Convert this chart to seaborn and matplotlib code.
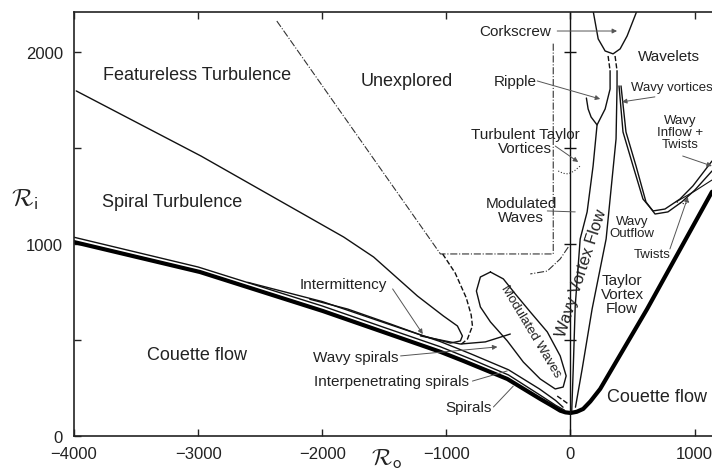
import matplotlib
matplotlib.use("Agg")
import matplotlib.pyplot as plt
import seaborn as sns

# boundary curves (Ro, Ri)
couette_ro = [-4000, -2985, -1996, -1047, -863, -509, -244, -150, -83, -40, 0, 50, 102, 160, 239, 617, 1140]
couette_ri = [1010, 854, 651, 438, 391, 297, 193, 158, 132, 123, 120, 126, 141, 180, 245, 661, 1272]

spiral_a_ro = [-4000, -3000, -2000, -1500, -1050, -800, -500, -250, -120, -50]
spiral_a_ri = [1035, 880, 677, 565, 465, 400, 318, 215, 160, 135]

spiral_b_ro = [-2600, -2000, -1500, -1050, -800, -500, -250, -120, -60]
spiral_b_ri = [800, 700, 590, 492, 427, 345, 245, 185, 150]

tongue_ro = [-3982, -2977, -1827, -1586, -1233, -1024, -911, -871, -887, -967, -1184, -1449, -1795, -2100]
tongue_ri = [1797, 1458, 1036, 932, 729, 625, 573, 521, 495, 484, 521, 583, 661, 712]

wavy_spiral_ro = [-1208, -887, -686, -485]
wavy_spiral_ri = [521, 479, 490, 531]

bulb_ro = [-645, -541, -445, -324, -187, -83, -35, -59, -123, -244, -380, -509, -645, -726, -758, -726, -645]
bulb_ri = [854, 818, 740, 646, 542, 417, 313, 255, 245, 297, 385, 495, 594, 672, 755, 828, 854]

unexplored_ro = [-2366, -1048, -139, -139]
unexplored_ri = [2161, 948, 948, 2052]

dashed_ro = [-1030, -930, -840, -800, -790, -830, -887]
dashed_ri = [948, 850, 720, 630, 573, 505, 474]

ttv_ro = [-18, -83, -187, -324]
ttv_ri = [984, 922, 859, 844]

ttv_arc_ro = [-99, -60, -18, 30, 78]
ttv_arc_ri = [1380, 1368, 1365, 1380, 1406]

bottom_dash_ro = [-107, -18]
bottom_dash_ri = [208, 167]

wvf_left_ro = [10, 22, 38, 78, 134, 182, 214]
wvf_left_ri = [130, 349, 677, 1026, 1167, 1406, 1620]

ripple_ro = [128, 142, 166, 214, 279, 319, 319]
ripple_ri = [1760, 1703, 1661, 1620, 1703, 1807, 1901]

tvf_left_ro = [40, 94, 174, 287, 367, 375, 375]
tvf_left_ri = [150, 349, 661, 1026, 1547, 1823, 1901]

corkscrew_ro = [182, 223, 279, 343, 400, 456, 536]
corkscrew_ri = [2215, 2068, 2005, 1990, 2016, 2083, 2215]

dash_pair_l_ro = [303, 319]
dash_pair_l_ri = [1979, 1901]
dash_pair_r_ro = [359, 375]
dash_pair_r_ri = [1979, 1901]

outflow1_ro = [391, 423, 504, 584, 665, 761, 882, 986, 1140]
outflow1_ri = [1823, 1583, 1406, 1234, 1172, 1182, 1234, 1302, 1432]
outflow2_ro = [407, 447, 528, 608, 681, 785, 897, 1002, 1140]
outflow2_ri = [1823, 1583, 1406, 1219, 1156, 1167, 1219, 1281, 1380]
outflow3_ro = [850, 1000, 1140]
outflow3_ri = [1219, 1275, 1333]

twist_dot_ro = [858, 922, 962]
twist_dot_ri = [1219, 1208, 1224]

axis_ticks_ri = [500, 1000, 1500, 2000]

sns.set_theme(style="ticks")
plt.rcParams["font.family"] = ["Liberation Sans", "DejaVu Sans"]
plt.rcParams["mathtext.fontset"] = "cm"

fig = plt.figure(figsize=(7.12, 4.77), dpi=100)
ax = fig.add_axes([74 / 712, 1 - 437 / 477, 638 / 712, 424 / 477])


def curve(xs, ys, lw=1.0, ls="-", color="#111111"):
    sns.lineplot(x=xs, y=ys, sort=False, estimator=None, ax=ax,
                 color=color, linewidth=lw, linestyle=ls)


curve(couette_ro, couette_ri, lw=3.0, color="black")
curve(spiral_a_ro, spiral_a_ri)
curve(spiral_b_ro, spiral_b_ri)
curve(tongue_ro, tongue_ri)
curve(wavy_spiral_ro, wavy_spiral_ri)
curve(bulb_ro, bulb_ri)
curve(unexplored_ro, unexplored_ri, lw=0.8, ls="-.", color="#333333")
curve(dashed_ro, dashed_ri, lw=1.0, ls="--")
curve(ttv_ro, ttv_ri, lw=0.8, ls="-.", color="#333333")
curve(ttv_arc_ro, ttv_arc_ri, lw=0.8, ls=":", color="#333333")
curve(bottom_dash_ro, bottom_dash_ri, lw=1.0, ls="--")
curve(wvf_left_ro, wvf_left_ri)
curve(ripple_ro, ripple_ri)
curve(tvf_left_ro, tvf_left_ri)
curve(corkscrew_ro, corkscrew_ri)
curve(dash_pair_l_ro, dash_pair_l_ri, ls="--")
curve(dash_pair_r_ro, dash_pair_r_ri, ls="--")
curve(outflow1_ro, outflow1_ri)
curve(outflow2_ro, outflow2_ri)
curve(outflow3_ro, outflow3_ri, lw=0.8)
curve(twist_dot_ro, twist_dot_ri, lw=0.8, ls=":")

# Ro = 0 line with its own little tick marks
ax.axvline(0, color="#111111", lw=1.0)
ax.plot([0] * len(axis_ticks_ri), axis_ticks_ri, ls="none", marker="_", ms=8, mew=1.0, color="#111111")

txt = "#222222"
big, mid, small = 13, 11, 9.5
ax.text(-3009, 1885, "Featureless Turbulence", fontsize=big, color=txt, ha="center", va="center")
ax.text(-3210, 1219, "Spiral Turbulence", fontsize=big, color=txt, ha="center", va="center")
ax.text(-1321, 1849, "Unexplored", fontsize=big, color=txt, ha="center", va="center")
ax.text(-3009, 427, "Couette flow", fontsize=big, color=txt, ha="center", va="center")
ax.text(696, 208, "Couette flow", fontsize=big, color=txt, ha="center", va="center")
ax.text(-1827, 792, "Intermittency", fontsize=mid, color=txt, ha="center", va="center")
ax.text(-1731, 411, "Wavy spirals", fontsize=mid, color=txt, ha="center", va="center")
ax.text(-1441, 286, "Interpenetrating spirals", fontsize=mid, color=txt, ha="center", va="center")
ax.text(-822, 151, "Spirals", fontsize=mid, color=txt, ha="center", va="center")
ax.text(-444, 2109, "Corkscrew", fontsize=mid, color=txt, ha="center", va="center")
ax.text(-444, 1849, "Ripple", fontsize=mid, color=txt, ha="center", va="center")
ax.text(-364, 1536, "Turbulent Taylor\nVortices", fontsize=mid, color=txt, ha="center", va="center",
        linespacing=1.0)
ax.text(-396, 1177, "Modulated\nWaves", fontsize=mid, color=txt, ha="center", va="center", linespacing=1.0)
ax.text(793, 1979, "Wavelets", fontsize=mid, color=txt, ha="center", va="center")
ax.text(817, 1818, "Wavy vortices", fontsize=small, color=txt, ha="center", va="center")
ax.text(881, 1583, "Wavy\nInflow +\nTwists", fontsize=small, color=txt, ha="center", va="center",
        linespacing=1.0)
ax.text(496, 1089, "Wavy\nOutflow", fontsize=small, color=txt, ha="center", va="center", linespacing=1.0)
ax.text(657, 948, "Twists", fontsize=small, color=txt, ha="center", va="center")
ax.text(416, 740, "Taylor\nVortex\nFlow", fontsize=mid, color=txt, ha="center", va="center", linespacing=1.0)
ax.text(86, 854, "Wavy Vortex Flow", fontsize=12, color=txt, ha="center", va="center", rotation=72,
        rotation_mode="anchor")
ax.text(-323, 547, "Modulated Waves", fontsize=small, color=txt, ha="center", va="center", rotation=-59,
        rotation_mode="anchor")

arrow = dict(arrowstyle="-|>", color="#555555", lw=0.7, mutation_scale=7, shrinkA=0, shrinkB=0)
line = dict(arrowstyle="-", color="#555555", lw=0.7, shrinkA=0, shrinkB=0)
pointers = [
    ((-1433, 766), (-1190, 531), arrow),
    ((-1369, 417), (-589, 464), arrow),
    ((-790, 286), (-509, 339), line),
    ((-621, 151), (-461, 260), line),
    ((-107, 2109), (375, 2109), arrow),
    ((-268, 1849), (239, 1755), arrow),
    ((-123, 1510), (62, 1427), arrow),
    ((-187, 1172), (38, 1167), line),
    ((680, 1766), (415, 1740), arrow),
    ((904, 1458), (1139, 1406), arrow),
    ((801, 974), (946, 1245), arrow),
]
for start, end, props in pointers:
    ax.annotate("", xy=end, xytext=start, arrowprops=props)

ax.set_xlim(-4000, 1140)
ax.set_ylim(0, 2208)
ax.set_xticks([-4000, -3000, -2000, -1000, 0, 1000])
ax.set_yticks([0, 500, 1000, 1500, 2000])
ax.set_yticklabels(["0", "", "1000", "", "2000"])
ax.tick_params(direction="in", length=5, width=1.0, colors="#222222", labelsize=12, top=True)
ax.tick_params(axis="x", pad=7)
ax.tick_params(axis="y", pad=8)
for side in ["left", "bottom", "top"]:
    ax.spines[side].set_linewidth(1.2)
    ax.spines[side].set_color("#222222")
ax.spines["right"].set_visible(False)

ax.set_ylabel(r"$\mathcal{R}_{\mathsf{i}}$", fontsize=18, rotation=0, color=txt)
ax.yaxis.set_label_coords(-0.077, 0.53)
ax.set_xlabel(r"$\mathcal{R}_{\mathsf{o}}$", fontsize=17, color=txt)
ax.xaxis.set_label_coords(0.49, -0.025)

fig.savefig("out.png", dpi=100)
